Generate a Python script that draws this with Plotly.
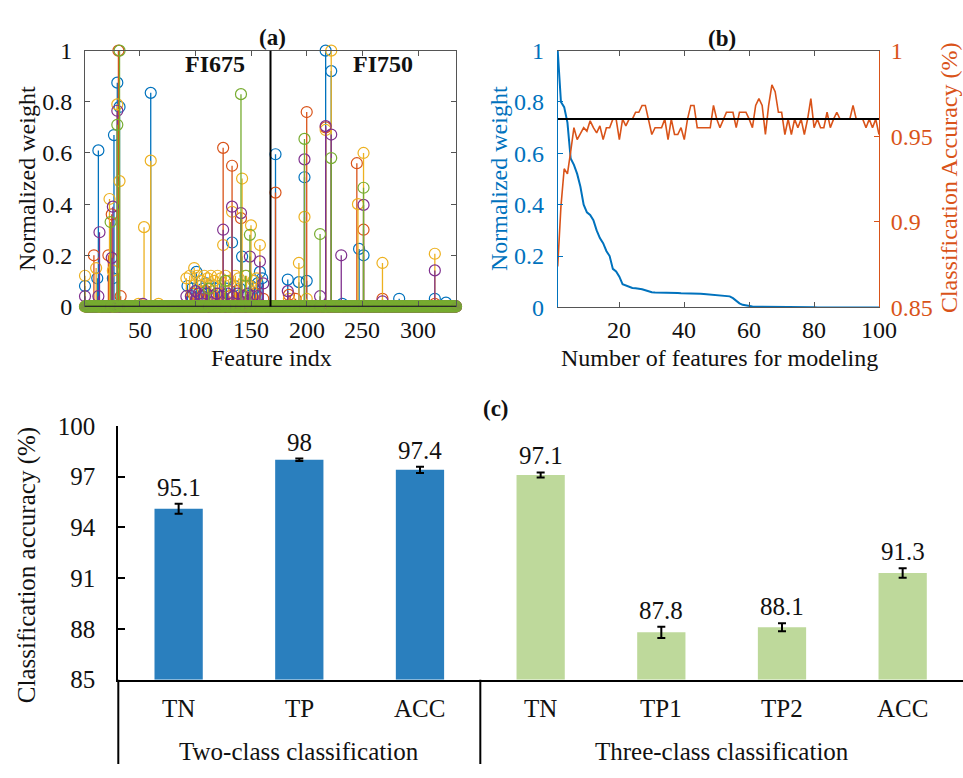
import plotly.graph_objects as go

W, H = 963, 778
FONT = "Liberation Serif"
TXT = "#111111"
C_BLUE = "#0072BD"
C_ORANGE = "#D95319"
C_YELLOW = "#EDB120"
C_PURPLE = "#7E2F8E"
C_GREEN = "#77AC30"


def fx(p):
    return p / W


def fy(p):
    return 1 - p / H


# ---------------- Panel (a) data: stem plot of normalized weights ----------------
n_features = 334
fi_split = 167.5
a_xticks = [50, 100, 150, 200, 250, 300]
a_yticks = [0, 0.2, 0.4, 0.6, 0.8, 1]

blue_idx = [1, 12, 13, 26, 27, 30, 32, 60, 93, 97, 101, 104, 107, 110, 113, 118, 122, 128, 133, 135,
            140, 142, 145, 150, 153, 156, 158, 160, 172, 183, 193, 198, 200, 217, 222, 232, 247, 251,
            283, 315, 325]
blue_val = [0.08, 0.11, 0.61, 0.11, 0.67, 0.875, 0.78, 0.835, 0.08, 0.07, 0.135, 0.08, 0.07, 0.09,
            0.08, 0.07, 0.08, 0.07, 0.25, 0.08, 0.07, 0.195, 0.08, 0.08, 0.07, 0.09, 0.135, 0.11,
            0.595, 0.105, 0.095, 0.505, 0.10, 1.0, 0.92, 0.01, 0.225, 0.20, 0.03, 0.03, 0.015]

orange_idx = [9, 22, 25, 31, 33, 98, 104, 109, 116, 121, 125, 131, 133, 137, 141, 144, 154, 161,
              172, 184, 190, 200, 217, 245, 251, 268, 315]
orange_val = [0.20, 0.20, 0.36, 1.0, 0.04, 0.05, 0.03, 0.06, 0.04, 0.05, 0.62, 0.04, 0.55, 0.06,
              0.345, 0.04, 0.05, 0.03, 0.445, 0.045, 0.03, 0.76, 0.70, 0.56, 0.30, 0.03, 0.01]

yellow_idx = [1, 11, 23, 26, 30, 32, 49, 54, 60, 67, 92, 95, 99, 102, 105, 108, 111, 114, 117, 120,
              123, 125, 127, 130, 133, 136, 139, 142, 146, 150, 152, 155, 158, 184, 193, 198, 200,
              217, 222, 246, 251, 268, 315]
yellow_val = [0.12, 0.15, 0.42, 0.14, 0.79, 0.49, 0.01, 0.31, 0.57, 0.01, 0.11, 0.12, 0.15, 0.12,
              0.10, 0.12, 0.11, 0.12, 0.10, 0.12, 0.11, 0.24, 0.12, 0.10, 0.37, 0.12, 0.11, 0.50,
              0.12, 0.317, 0.10, 0.11, 0.24, 0.03, 0.17, 0.35, 0.03, 0.69, 1.0, 0.40, 0.60, 0.17,
              0.206]

purple_idx = [1, 13, 14, 25, 26, 30, 53, 92, 96, 100, 103, 106, 110, 115, 119, 124, 125, 129, 133,
              134, 138, 141, 143, 147, 149, 151, 156, 158, 161, 183, 198, 212, 217, 222, 231, 251,
              268, 315]
purple_val = [0.04, 0.04, 0.29, 0.19, 0.39, 0.765, 0.01, 0.04, 0.04, 0.06, 0.05, 0.04, 0.05, 0.04,
              0.05, 0.04, 0.30, 0.05, 0.39, 0.04, 0.05, 0.365, 0.04, 0.05, 0.195, 0.04, 0.04, 0.176,
              0.09, 0.06, 0.575, 0.04, 0.705, 0.672, 0.20, 0.397, 0.02, 0.141]

green_idx = [24, 30, 32, 112, 127, 141, 145, 149, 198, 212, 222, 251]
green_val = [0.33, 0.71, 1.0, 0.07, 0.10, 0.83, 0.12, 0.28, 0.655, 0.283, 0.58, 0.464]

# ---------------- Panel (b) data ----------------
b_n = list(range(1, 101))
b_weight = [1.0, 0.80, 0.78, 0.72, 0.58, 0.555, 0.52, 0.47, 0.40, 0.37,
            0.36, 0.34, 0.30, 0.27, 0.25, 0.22, 0.20, 0.15, 0.14, 0.12,
            0.09, 0.085, 0.08, 0.076, 0.075, 0.074, 0.071, 0.067, 0.062, 0.059,
            0.058, 0.058, 0.057, 0.057, 0.057, 0.056, 0.056, 0.056, 0.055, 0.055,
            0.055, 0.055, 0.054, 0.054, 0.053, 0.052, 0.051, 0.050, 0.049, 0.048,
            0.047, 0.046, 0.045, 0.043, 0.036, 0.026, 0.016, 0.010, 0.007, 0.005,
            0.004, 0.003, 0.003, 0.002, 0.002, 0.002, 0.001, 0.001, 0.001, 0.001,
            0.001, 0.001, 0.001, 0.001, 0.001, 0.001, 0.001, 0.001, 0.001, 0.001,
            0.0, 0.0, 0.0, 0.0, 0.0, 0.0, 0.0, 0.0, 0.0, 0.0,
            0.0, 0.0, 0.0, 0.0, 0.0, 0.0, 0.0, 0.0, 0.0, 0.0]
b_acc = [0.874, 0.909, 0.931, 0.928, 0.941, 0.955, 0.948, 0.952, 0.955, 0.953,
         0.959, 0.955, 0.952, 0.956, 0.948, 0.955, 0.955, 0.960, 0.960, 0.948,
         0.960, 0.956, 0.960, 0.960, 0.964, 0.964, 0.968, 0.968, 0.960, 0.951,
         0.955, 0.955, 0.955, 0.960, 0.948, 0.960, 0.951, 0.951, 0.955, 0.948,
         0.960, 0.968, 0.968, 0.955, 0.955, 0.955, 0.955, 0.955, 0.968, 0.960,
         0.955, 0.960, 0.964, 0.964, 0.964, 0.955, 0.964, 0.964, 0.964, 0.960,
         0.955, 0.968, 0.972, 0.968, 0.951, 0.968, 0.980, 0.976, 0.964, 0.964,
         0.951, 0.960, 0.951, 0.960, 0.955, 0.960, 0.951, 0.960, 0.972, 0.955,
         0.960, 0.955, 0.955, 0.964, 0.955, 0.960, 0.964, 0.960, 0.960, 0.960,
         0.960, 0.968, 0.960, 0.960, 0.960, 0.955, 0.960, 0.955, 0.960, 0.951]
b_acc_ref = 0.96
b_xticks = [20, 40, 60, 80, 100]
b_yticks_left = [0, 0.2, 0.4, 0.6, 0.8, 1]
b_yticks_right = [0.85, 0.9, 0.95, 1]

# ---------------- Panel (c) data ----------------
c_categories = ["TN", "TP", "ACC", "TN", "TP1", "TP2", "ACC"]
c_values = [95.1, 98.0, 97.4, 97.1, 87.8, 88.1, 91.3]
c_errors = [0.30, 0.07, 0.18, 0.15, 0.33, 0.24, 0.28]
c_groups = ["Two-class classification", "Three-class classification"]
c_group_sizes = [3, 4]
c_group_colors = ["#2A7FBE", "#BED99B"]
c_yticks = [85, 88, 91, 94, 97, 100]

fig = go.Figure()

# ---------------- Panel (a) traces ----------------
series = [
    (blue_idx, blue_val, C_BLUE),
    (orange_idx, orange_val, C_ORANGE),
    (yellow_idx, yellow_val, C_YELLOW),
    (purple_idx, purple_val, C_PURPLE),
    (green_idx, green_val, C_GREEN),
]
feat = list(range(1, n_features + 1))
for idx, val, col in series:
    full = [0.0] * n_features
    for i, v in zip(idx, val):
        full[i - 1] = v
    lx, ly = [], []
    for i, v in zip(idx, val):
        lx += [i, i, None]
        ly += [0, v, None]
    fig.add_trace(go.Scatter(x=lx, y=ly, mode="lines", line=dict(color=col, width=1.3),
                             xaxis="x", yaxis="y", showlegend=False, hoverinfo="skip"))
    fig.add_trace(go.Scatter(x=feat, y=full, mode="markers",
                             marker=dict(symbol="circle-open", size=11, color=col,
                                         line=dict(width=1.2, color=col)),
                             cliponaxis=False, xaxis="x", yaxis="y", showlegend=False))

# ---------------- Panel (b) traces ----------------
fig.add_trace(go.Scatter(x=b_n, y=b_weight, mode="lines", line=dict(color=C_BLUE, width=2),
                         xaxis="x2", yaxis="y2", showlegend=False))
fig.add_trace(go.Scatter(x=b_n, y=b_acc, mode="lines", line=dict(color=C_ORANGE, width=1.6),
                         xaxis="x2", yaxis="y3", showlegend=False))

# ---------------- Panel (c) traces ----------------
c_x = list(range(len(c_categories)))
c_colors = []
for g, n in enumerate(c_group_sizes):
    c_colors += [c_group_colors[g]] * n
fig.add_trace(go.Bar(x=c_x, y=[v - 85 for v in c_values], base=85, width=0.4,
                     marker=dict(color=c_colors, line=dict(width=0)),
                     error_y=dict(type="data", array=c_errors, color="black", thickness=2, width=4),
                     xaxis="x3", yaxis="y4", showlegend=False))

# ---------------- Layout ----------------
tickfont = dict(family=FONT, size=24, color=TXT)
frame = "#555555"
layout = dict(
    width=W, height=H, autosize=False,
    margin=dict(l=0, r=0, t=0, b=0),
    paper_bgcolor="white", plot_bgcolor="rgba(0,0,0,0)",
    font=dict(family=FONT, color=TXT),
    showlegend=False,
    xaxis=dict(domain=[fx(85), fx(456)], range=[1, n_features], anchor="y",
               tickvals=a_xticks, ticks="inside", ticklen=5, tickcolor=frame,
               showline=True, linecolor=frame, linewidth=1, mirror="ticks",
               showgrid=False, zeroline=False, showticklabels=False),
    yaxis=dict(domain=[fy(304), fy(39)], range=[0, 1], anchor="x",
               tickvals=a_yticks, ticktext=[f"{v:g}" for v in a_yticks],
               ticks="inside", ticklen=5, tickcolor=frame,
               showline=True, linecolor=frame, linewidth=1, mirror="ticks",
               showgrid=False, zeroline=False, tickfont=tickfont, ticklabelstandoff=7),
    xaxis2=dict(domain=[fx(557.7), fx(879)], range=[1, 100], anchor="y2",
                tickvals=b_xticks, ticks="inside", ticklen=5, tickcolor=frame,
                showline=True, linecolor=frame, linewidth=1, mirror="ticks",
                showgrid=False, zeroline=False, showticklabels=False),
    yaxis2=dict(domain=[fy(305), fy(39)], range=[0, 1], anchor="x2",
                tickvals=b_yticks_left, ticktext=[f"{v:g}" for v in b_yticks_left],
                ticks="inside", ticklen=5, tickcolor=C_BLUE,
                showline=True, linecolor=C_BLUE, linewidth=1,
                showgrid=False, zeroline=False,
                tickfont=dict(family=FONT, size=24, color=C_BLUE), ticklabelstandoff=8),
    yaxis3=dict(range=[0.85, 1], anchor="x2", overlaying="y2", side="right",
                tickvals=b_yticks_right, ticktext=[f"{v:g}" for v in b_yticks_right],
                ticks="inside", ticklen=5, tickcolor=C_ORANGE,
                showline=True, linecolor=C_ORANGE, linewidth=1,
                showgrid=False, zeroline=False,
                tickfont=dict(family=FONT, size=24, color=C_ORANGE), ticklabelstandoff=6),
    xaxis3=dict(domain=[fx(118.3), 1], range=[-0.5, 6.5], anchor="y4",
                showticklabels=False, ticks="", showline=True, linecolor="black", linewidth=2,
                showgrid=False, zeroline=False),
    yaxis4=dict(domain=[fy(690.7), fy(427.7)], range=[85, 100], anchor="x3",
                tickvals=c_yticks, ticks="inside", ticklen=7, tickwidth=2, tickcolor="black",
                showline=True, linecolor="black", linewidth=2,
                showgrid=False, zeroline=False,
                tickfont=dict(family=FONT, size=25, color=TXT), ticklabelstandoff=16),
)
fig.update_layout(**layout)

shapes = [
    # divider FI675 / FI750
    dict(type="line", xref="x", yref="y domain", x0=fi_split, x1=fi_split, y0=0, y1=1,
         line=dict(color="black", width=2), layer="above"),
    # stem baseline
    dict(type="line", xref="x", yref="y", x0=1, x1=n_features, y0=0, y1=0,
         line=dict(color="black", width=1.2), layer="above"),
    # reference accuracy line (b)
    dict(type="line", xref="x2", yref="y3", x0=1, x1=100, y0=b_acc_ref, y1=b_acc_ref,
         line=dict(color="black", width=2), layer="above"),
    # table lines (c)
    dict(type="line", xref="paper", yref="paper", x0=fx(118.3), x1=fx(118.3), y0=0, y1=fy(690.7),
         line=dict(color="black", width=2)),
    dict(type="line", xref="x3", yref="paper", x0=c_group_sizes[0] - 0.5, x1=c_group_sizes[0] - 0.5,
         y0=0, y1=fy(690.7), line=dict(color="black", width=2)),
]
fig.update_layout(shapes=shapes)


def ann(text, x, y, size=24, color=TXT, angle=0, xref="paper", yref="paper", **kw):
    d = dict(text=text, x=x, y=y, xref=xref, yref=yref, showarrow=False,
             font=dict(family=FONT, size=size, color=color), textangle=angle,
             xanchor="center", yanchor="middle")
    d.update(kw)
    return d


anns = [
    ann("<b>(a)</b>", fx(272), fy(25), size=23),
    ann("<b>(b)</b>", fx(722), fy(26), size=23),
    ann("<b>(c)</b>", fx(496), fy(410), size=23),
    ann("<b>FI675</b>", fx(215), fy(53), size=24),
    ann("<b>FI750</b>", fx(383), fy(53), size=24),
    ann("Normalized weight", fx(27), fy(172), angle=-90),
    ann("Feature indx", fx(271), fy(357)),
    ann("Normalized weight", fx(499), fy(172), color=C_BLUE, angle=-90),
    ann("Classification Accuracy (%)", fx(949), fy(171), color=C_ORANGE, angle=-90),
    ann("Number of features for modeling", fx(719), fy(357)),
    ann("Classification accuracy (%)", fx(27), fy(572), size=25, angle=-90),
]
# x tick labels of panels (a) and (b)
for v in a_xticks:
    anns.append(ann(f"{v:g}", v, fy(328), xref="x"))
for v in b_xticks:
    anns.append(ann(f"{v:g}", v, fy(328), xref="x2"))
for xi, v, e in zip(c_x, c_values, c_errors):
    anns.append(ann(f"{v:g}", xi, v + e, size=25, xref="x3", yref="y4", yanchor="bottom", yshift=1))
for xi, c in zip(c_x, c_categories):
    anns.append(ann(c, xi, fy(721), size=25, xref="x3"))
start = 0
for g, n in zip(c_groups, c_group_sizes):
    center = start + (n - 1) / 2
    anns.append(ann(g, center, fy(765), size=25, xref="x3"))
    start += n
fig.update_layout(annotations=anns)

# remove the browser's default page margin so the figure fills the window exactly
fig.write_html("out.html", config={"displayModeBar": False},
               post_script="document.body.style.margin='0';")
